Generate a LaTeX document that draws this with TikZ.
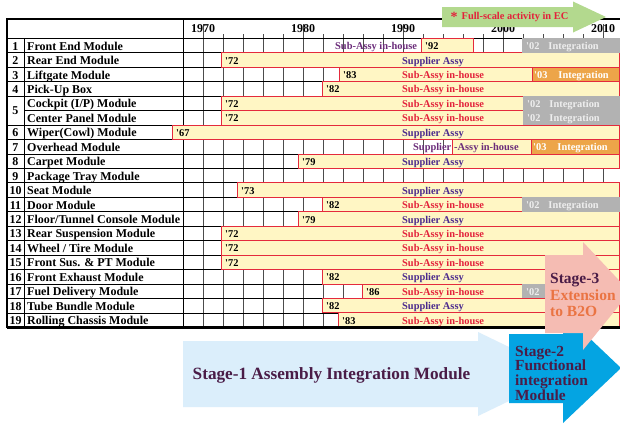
\documentclass[tikz,border=0pt]{standalone}
\usepackage{fontspec}
\setmainfont{Liberation Serif}
\usepackage{xcolor}
\usetikzlibrary{positioning}
\definecolor{baryellow}{HTML}{FFF6C4}
\definecolor{barred}{HTML}{E42A3C}
\definecolor{intgray}{HTML}{B2B2B2}
\definecolor{intink}{HTML}{EEEEEE}
\definecolor{intorange}{HTML}{EDA549}
\definecolor{suppink}{HTML}{4B2A8E}
\definecolor{houseink}{HTML}{E3213B}
\definecolor{plumink}{HTML}{6B2C7A}
\definecolor{ecgreen}{HTML}{B3D98E}
\definecolor{stageone}{HTML}{DBEEFB}
\definecolor{stagetwo}{HTML}{04A4E2}
\definecolor{stagethree}{HTML}{F5BCB3}
\definecolor{stageink}{HTML}{4A1C47}
\definecolor{b2oink}{HTML}{EA7443}
\newcommand{\yq}{\textquotesingle}
\tikzset{
  tableframe/.style={draw=black,line width=1.6pt},
  rowline/.style={draw=black,line width=0.7pt},
  gridline/.style={draw=black!70,line width=0.9pt},
  assybar/.style={draw=barred,fill=baryellow,line width=0.8pt},
  graybar/.style={fill=intgray},
  orangebar/.style={draw=barred,fill=intorange,line width=0.8pt},
  numtag/.style={font=\fontsize{12}{14}\selectfont\bfseries,inner sep=0pt,anchor=base},
  rowtag/.style={font=\fontsize{12}{14}\selectfont\bfseries,inner sep=0pt,anchor=base west},
  decade/.style={font=\fontsize{12}{14}\selectfont\bfseries,inner sep=0pt,anchor=base},
  yeartag/.style={font=\fontsize{10.4}{12}\selectfont\bfseries,inner sep=0pt,anchor=base west},
  supplier/.style={yeartag,text=suppink},
  inhouse/.style={yeartag,text=houseink},
  stagetext/.style={inner sep=0pt,align=left,anchor=north west,text=stageink}
}

\begin{document}
\begin{tikzpicture}[x=1pt,y=-1pt]
  \path[use as bounding box,fill=white] (0,0) rectangle (620,423);
  % grid of the chart
  \foreach \yr in {1970,1972,...,2010}
    \draw[gridline] ({203+10*(\yr-1970)},34) -- ({203+10*(\yr-1970)},327.5);
  \foreach \yr in {1970,1980,...,2010}
    \draw[gridline] ({203+10*(\yr-1970)},24) -- ({203+10*(\yr-1970)},34);
  \foreach \r in {0,...,4,6,7,...,19}
    \draw[rowline] (7,{38.3+14.45*\r}) -- (619.5,{38.3+14.45*\r});
  \draw[rowline] (24,{38.3+14.45*5}) -- (619.5,{38.3+14.45*5});
  \draw[rowline] (24,38.3) -- (24,327.5);
  \draw[rowline] (183,19) -- (183,327.5);

  \foreach \r/\xa/\xb/\yr in {0/421/473/92,1/221/619.5/72,2/339/532/83,3/322/619.5/82,
      4/221/523/72,5/221/523/72,6/172/619.5/67,8/298/619.5/79,10/237/619.5/73,
      11/322/522/82,12/298/619.5/79,13/221/619.5/72,14/221/619.5/72,15/221/619.5/72,
      16/322/619.5/82,17/362/522/86,18/322/619.5/82,19/338/619.5/83}{
    \draw[assybar] (\xa,{38.3+14.45*\r}) rectangle (\xb,{38.3+14.45*(\r+1)});
    \node[yeartag] (b\r) at ({\xa+4},{38.3+14.45*\r+11.3}) {\yq\yr};
  }
  \draw[assybar] (452,{38.3+14.45*7}) rectangle (531,{38.3+14.45*8});
  \foreach \r/\xa in {0/522,4/523,5/523,11/522}{
    \fill[graybar] (\xa,{38.3+14.45*\r}) rectangle (619.5,{38.3+14.45*(\r+1)});
    \node[yeartag,text=intink] (g\r) at ({\xa+4},{38.3+14.45*\r+11.3})
      {\yq02\hspace{9pt}Integration};
  }
  \fill[graybar] (522,{38.3+14.45*17}) rectangle (619.5,{38.3+14.45*18});
  \node[yeartag,text=intink] (g17) at (526,{38.3+14.45*17+11.3}) {\yq02};
  \foreach \r/\xa in {2/532,7/531}{
    \draw[orangebar] (\xa,{38.3+14.45*\r}) rectangle (619.5,{38.3+14.45*(\r+1)});
    \node[yeartag,text=white] (o\r) at ({\xa+2},{38.3+14.45*\r+11.3})
      {\yq03\hspace{11pt}Integration};
  }
  \draw[tableframe] (619.5,19) -- (7,19) -- (7,327.5);
  \draw[tableframe,line width=2.2pt] (7,327.5) -- (619.5,327.5);

  % texts of the table
  \foreach \yr in {1970,1980,...,2010}
    \node[decade] (d\yr) at ({203+10*(\yr-1970)},32.7) {\yr};
  \foreach \r/\n in {0/1,1/2,2/3,3/4,6/6,7/7,8/8,9/9,10/10,11/11,12/12,13/13,
      14/14,15/15,16/16,17/17,18/18,19/19}
    \node[numtag] (n\r) at (15.5,{38.3+14.45*\r+11.8}) {\n};
  \node[numtag] (n4) at (15.5,{38.3+14.45*5+4.3}) {5};
  \foreach \r/\name in {0/Front End Module,1/Rear End Module,2/Liftgate Module,
      3/Pick-Up Box,4/{Cockpit (I/P) Module},5/Center Panel Module,
      6/Wiper(Cowl) Module,7/Overhead Module,8/Carpet Module,9/Package Tray Module,
      10/Seat Module,11/Door Module,12/{Floor/Tunnel Console Module},
      13/Rear Suspension Module,14/{Wheel / Tire Module},15/Front Sus. \& PT Module,
      16/Front Exhaust Module,17/Fuel Delivery Module,18/Tube Bundle Module,
      19/Rolling Chassis Module}
    \node[rowtag] (m\r) at (27,{38.3+14.45*\r+11.8}) {\name};
  \foreach \r in {1,6,8,10,12,16,18}
    \node[supplier] (s\r) at (402,{38.3+14.45*\r+11.3}) {Supplier Assy};
  \foreach \r in {2,3,4,5,11,13,14,15,17,19}
    \node[inhouse] (h\r) at (402,{38.3+14.45*\r+11.3}) {Sub-Assy in-house};
  \node[yeartag,text=plumink] (h0) at (335,{38.3+11.3}) {Sub-Assy in-house};
  \node[yeartag,text=plumink] (s7) at (413,{38.3+14.45*7+11.3}) {Supplier};
  \node[yeartag,text=plumink] (h7) at (454,{38.3+14.45*7+11.3}) {-Assy in-house};

  % full-scale arrow
  \fill[ecgreen] (442,7) -- (573,7) -- (573,1.5) -- (606,17) -- (573,32.5)
    -- (573,27) -- (442,27) -- cycle;
  \node[yeartag,anchor=base,text=houseink] (ec) at (509.5,19.2)
    {\raisebox{-0.45ex}{\fontsize{14}{14}\selectfont *}\hspace{4pt}Full-scale activity in EC};

  % stages
  \fill[stageone] (183,341) -- (478,341) -- (478,332) -- (565,374) -- (478,416)
    -- (478,407) -- (183,407) -- cycle;
  \fill[stagetwo] (509,334) -- (563,334) -- (563,313) -- (621,368) -- (563,423)
    -- (563,403) -- (509,403) -- cycle;
  \fill[stagethree] (545,255) -- (583,255) -- (583,242) -- (630,292) -- (583,350)
    -- (583,333) -- (545,333) -- cycle;
  \node[stagetext,anchor=base,font=\fontsize{17.2}{20}\selectfont\bfseries]
    (stage1) at (331.5,379.3) {Stage-1 Assembly Integration Module};
  \node[stagetext,font=\fontsize{15.4}{14.7}\selectfont\bfseries]
    (stage2) at (515,345.8) {Stage-2\\Functional\\integration\\Module};
  \node[stagetext,font=\fontsize{15.5}{16.7}\selectfont\bfseries]
    (stage3) at (550,273) {Stage-3\\\textcolor{b2oink}{Extension}\\\textcolor{b2oink}{to B2O}};
\end{tikzpicture}
\end{document}
